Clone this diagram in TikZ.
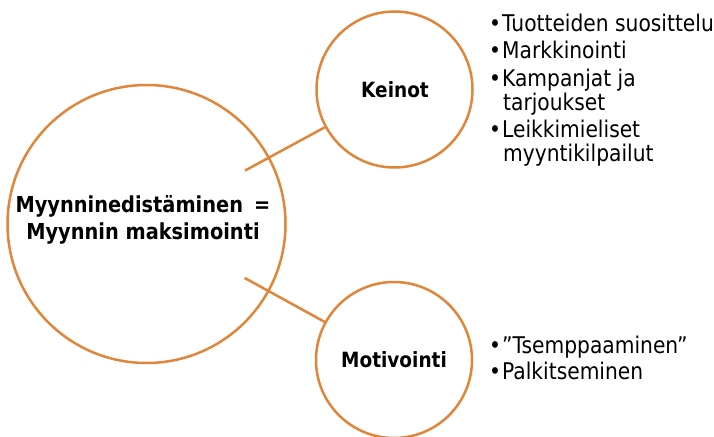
\documentclass[tikz,border=0pt]{standalone}
\usepackage{fontspec}
\setmainfont{DejaVu Sans}
\newfontfamily\tahoma[FakeStretch=0.88]{DejaVu Sans}
\usetikzlibrary{calc}
\definecolor{ring}{RGB}{224,134,58}
\begin{document}
\begin{tikzpicture}[x=1pt,y=1pt,
  ringnode/.style={circle,draw=ring,line width=2.5pt,inner sep=0pt,fill=white},
  label/.style={font=\tahoma\bfseries\fontsize{21}{26}\selectfont,align=center},
  biglabel/.style={font=\tahoma\bfseries\fontsize{22}{26}\selectfont,align=center},
  listline/.style={font=\tahoma\fontsize{23}{24}\selectfont,anchor=base west,inner sep=0pt},
  conn/.style={draw=ring,line width=2.5pt}]
\useasboundingbox (0,0) rectangle (714,-436);
\node[ringnode,minimum size=278pt] (big) at (146.5,-224) {};
\node[ringnode,minimum size=156pt] (k) at (394.5,-89.5) {};
\node[ringnode,minimum size=156pt] (m) at (394,-360) {};
\draw[conn] ($(big.center)!112pt!(k.center)$) -- (k);
\draw[conn] ($(big.center)!112pt!(m.center)$) -- (m);
\node[biglabel,anchor=base] (t1) at (143,-212) {Myynninedistäminen\hspace{0.2em} =};
\node[biglabel,anchor=base] (t2) at (143,-239) {Myynnin maksimointi};
\node[label] (kt) at (395,-90) {Keinot};
\node[label] (mt) at (394,-360) {Motivointi};
\node[listline] (a1) at (489,-32) {•\hspace{1pt}Tuotteiden suosittelu};
\node[listline] (a2) at (489,-59) {•\hspace{1pt}Markkinointi};
\node[listline] (a3) at (489,-86) {•\hspace{1pt}Kampanjat ja};
\node[listline] (a4) at (503,-110) {tarjoukset};
\node[listline] (a5) at (489,-137) {•\hspace{1pt}Leikkimieliset};
\node[listline] (a6) at (503,-161) {myyntikilpailut};
\node[listline] (b1) at (489,-353) {•\hspace{1pt}”Tsemppaaminen”};
\node[listline] (b2) at (489,-379) {•\hspace{1pt}Palkitseminen};
\end{tikzpicture}
\end{document}
